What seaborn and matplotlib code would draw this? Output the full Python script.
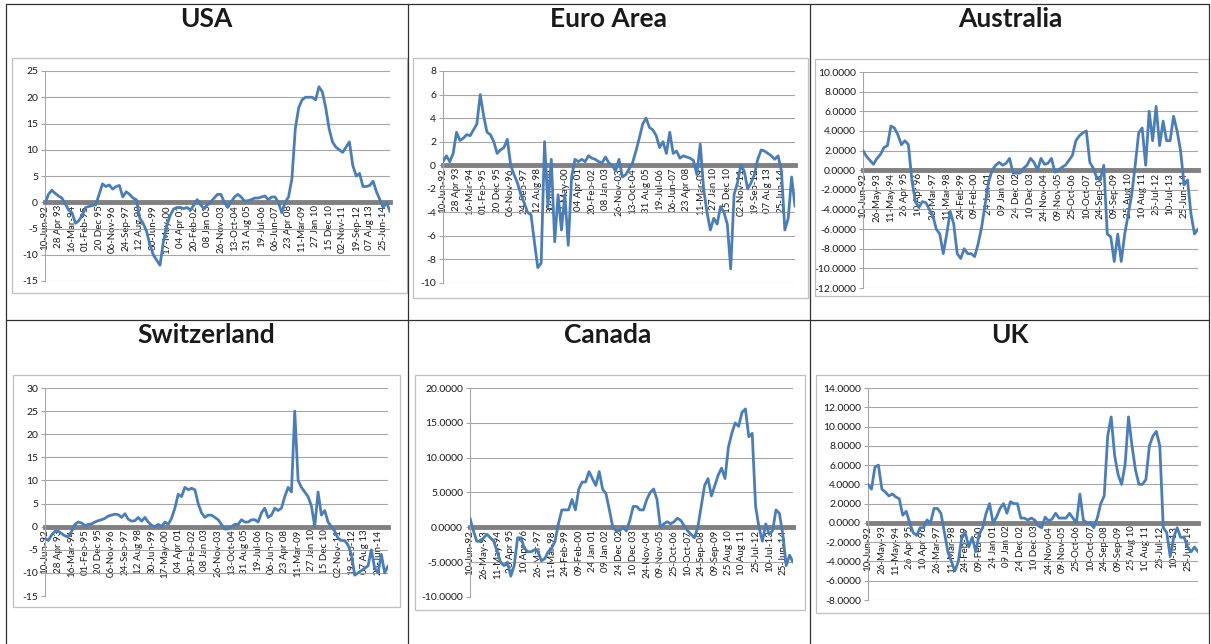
import numpy as np
import matplotlib
matplotlib.use("Agg")
import matplotlib.pyplot as plt
import seaborn as sns
from matplotlib.lines import Line2D
from matplotlib.patches import Rectangle
from matplotlib.ticker import FormatStrFormatter

sns.set_style("white")
plt.rcParams['font.family'] = ['Lato', 'DejaVu Sans']

# --- data: values, 4 readings per label interval ---
labels_a = ["10-Jun-92", "28 Apr 93", "16-Mar-94", "01-Feb-95", "20 Dec 95", "06-Nov-96",
            "24-Sep-97", "12 Aug 98", "30-Jun-99", "17-May-00", "04 Apr 01", "20-Feb-02",
            "08 Jan 03", "26-Nov-03", "13-Oct-04", "31 Aug 05", "19-Jul-06", "06-Jun-07",
            "23 Apr 08", "11-Mar-09", "27 Jan 10", "15 Dec 10", "02-Nov-11", "19-Sep-12",
            "07 Aug 13", "25-Jun-14"]
labels_b = ["10-Jun-92", "26-May-93", "11-May-94", "26 Apr 95", "10 Apr 96", "26-Mar-97",
            "11-Mar-98", "24-Feb-99", "09-Feb-00", "24 Jan 01", "09 Jan 02", "24 Dec 02",
            "10 Dec 03", "24-Nov-04", "09-Nov-05", "25-Oct-06", "10-Oct-07", "24-Sep-08",
            "09-Sep-09", "25 Aug 10", "10 Aug 11", "25-Jul-12", "10-Jul-13", "25-Jun-14"]

usa = [-0.3, 1.5, 2.3, 1.7, 1.2, 0.8, -0.3, -1.5, -2.0, -4.0, -3.5, -2.5, -1.0, -0.8, -0.6,
       -0.5, 1.5, 3.5, 3.0, 3.3, 2.5, 3.0, 3.2, 1.0, 2.0, 1.5, 0.8, 0.5, -3.0, -4.0, -5.5,
       -8.0, -10.0, -11.0, -12.0, -7.5, -4.5, -2.5, -1.3, -1.0, -1.0, -1.2, -1.0, -1.5, -0.5,
       0.5, -0.5, -1.2, -0.5, 0.0, 0.8, 1.5, 1.5, 0.0, -1.0, 0.0, 1.0, 1.5, 1.0, 0.2, 0.3,
       0.5, 0.8, 0.8, 1.0, 1.2, 0.5, 1.0, 1.0, 0.0, -2.0, 0.0, 1.0, 4.5, 14.0, 18.0, 19.5,
       20.0, 20.0, 20.0, 19.5, 22.0, 21.0, 18.0, 14.0, 11.5, 10.5, 10.0, 9.5, 10.5, 11.5, 7.0,
       5.0, 5.5, 3.0, 3.0, 3.2, 4.0, 2.0, 0.5, -1.0, 0.0, -1.8]

euro = [0.3, 0.8, 0.3, 1.0, 2.8, 2.1, 2.3, 2.6, 2.5, 3.0, 3.5, 6.0, 4.2, 2.8, 2.6, 2.0, 1.0,
        1.3, 1.5, 2.2, 0.0, -0.8, -1.5, -2.5, -3.2, -4.0, -4.2, -6.5, -8.7, -8.3, 2.0, -3.5,
        0.5, -6.5, -2.5, -5.5, -2.5, -6.8, -1.0, 0.5, 0.3, 0.5, 0.3, 0.8, 0.6, 0.5, 0.3, 0.2,
        0.7, 0.2, 0.0, -0.5, 0.5, -1.0, -0.8, -0.3, 0.2, 1.2, 2.3, 3.5, 4.0, 3.2, 3.0, 2.5,
        1.5, 2.0, 1.0, 2.8, 1.0, 1.2, 0.6, 0.8, 0.7, 0.6, 0.4, -0.8, 1.8, -2.0, -4.0, -5.5,
        -4.5, -5.0, -3.5, -4.0, -5.0, -8.8, -2.5, -1.5, 0.0, -0.5, -2.0, -1.5, -0.8, 0.5, 1.3,
        1.2, 1.0, 0.8, 0.5, 0.8, -0.5, -5.5, -4.5, -1.0, -3.5]

australia = [2.0, 1.4, 1.0, 0.6, 1.2, 1.6, 2.3, 2.5, 4.5, 4.3, 3.6, 2.6, 3.0, 2.6, -1.0, -3.2,
             -3.8, -3.2, -3.3, -4.0, -4.6, -6.0, -6.5, -8.5, -6.5, -4.2, -5.5, -8.5, -9.0, -8.0,
             -8.5, -8.5, -8.8, -7.5, -5.8, -3.5, -1.2, 0.0, 0.5, 0.8, 0.5, 0.7, 1.2, -0.3, -0.3,
             -0.3, 0.2, 0.5, 1.2, 0.8, 0.0, 1.2, 0.6, 0.7, 1.2, -0.2, 0.0, 0.3, 0.5, 1.0, 1.5,
             3.0, 3.5, 3.8, 4.0, 0.8, 0.2, -0.8, -1.0, 0.5, -6.5, -6.8, -9.3, -6.5, -9.3, -6.5,
             -4.5, -2.5, 0.5, 3.8, 4.3, 0.5, 6.0, 3.0, 6.5, 2.5, 5.0, 3.0, 3.0, 5.5, 4.0, 2.0,
             -1.5, -1.0, -4.5, -6.5, -6.0]

switzerland = [-2.5, -3.0, -1.8, -1.0, -1.0, -1.5, -2.0, -2.2, -1.0, 0.5, 1.0, 0.8, 0.2, 0.5,
               0.6, 1.0, 1.3, 1.5, 1.8, 2.3, 2.5, 2.7, 2.6, 2.0, 2.8, 1.6, 1.2, 1.3, 2.0, 1.2,
               2.0, 1.0, 0.3, 0.0, 0.5, 0.0, 1.0, 0.5, 1.8, 4.0, 7.0, 6.5, 8.5, 8.0, 8.3, 8.0,
               5.0, 3.0, 2.0, 2.5, 2.5, 2.0, 1.5, 0.5, -0.5, -0.5, 0.0, 0.5, 0.5, 1.5, 1.0, 1.0,
               1.5, 1.5, 1.0, 3.0, 4.0, 2.0, 2.5, 4.0, 3.5, 4.0, 6.5, 8.5, 7.5, 25.0, 10.0, 8.5,
               7.5, 6.5, 4.5, 0.0, 7.5, 2.5, 3.5, 1.0, 0.0, -1.0, -2.5, -3.0, -3.0, -4.0, -6.0,
               -10.5, -10.0, -9.5, -9.0, -8.5, -5.0, -9.0, -10.0, -6.0, -10.0, -8.5]

canada = [1.3, -0.5, -2.0, -2.0, -1.5, -1.0, -1.5, -2.0, -3.5, -5.0, -5.5, -5.0, -7.0, -5.5,
          -1.5, -1.5, -3.0, -3.5, -3.5, -3.2, -3.5, -4.8, -4.5, -3.5, -3.0, -2.0, 0.5, 2.5, 2.5,
          2.5, 4.0, 2.5, 5.5, 6.5, 6.5, 8.0, 7.0, 6.0, 8.0, 5.5, 4.8, 2.5, 0.0, -0.5, -0.5, 0.0,
          -0.5, 1.0, 3.0, 3.0, 2.5, 2.5, 4.0, 5.0, 5.5, 4.0, 0.0, 0.5, 0.8, 0.5, 0.8, 1.3, 1.0,
          0.2, -0.5, -1.0, -1.5, 0.0, 3.0, 6.0, 7.0, 4.5, 6.0, 7.5, 8.5, 7.0, 11.5, 13.5, 15.0,
          14.5, 16.5, 17.0, 13.0, 13.5, 3.0, 0.0, -2.0, 0.5, -1.0, -0.5, 2.5, 2.0, -1.0, -5.5,
          -4.0, -5.0]

uk = [4.0, 3.5, 5.8, 6.0, 3.5, 3.2, 2.8, 3.0, 2.7, 2.5, 0.8, 1.2, 0.0, -1.0, -1.3, -0.5, -0.5,
      0.3, 0.0, 1.5, 1.5, 1.0, -1.0, -3.0, -4.0, -5.0, -4.0, -1.5, -1.0, -2.5, -1.5, -3.0, -1.2,
      -0.5, 1.0, 2.0, 0.0, 0.6, 1.5, 2.0, 1.0, 2.2, 2.0, 2.0, 0.5, 0.5, 0.3, 0.5, 0.3, -0.3,
      -0.5, 0.6, 0.2, 0.4, 1.0, 0.5, 0.5, 0.5, 1.0, 0.5, 0.0, 3.0, 0.3, 0.0, 0.0, -0.5, 0.5,
      2.0, 2.8, 9.0, 11.0, 7.0, 5.0, 4.0, 6.0, 11.0, 8.0, 5.5, 4.0, 4.0, 4.5, 8.0, 9.0, 9.5,
      8.0, -0.5, -1.0, -3.5, -1.5, -0.5, -1.5, -1.5, -2.5, -3.0, -2.5, -3.0]

titles = ["USA", "Euro Area", "Australia", "Switzerland", "Canada", "UK"]
series = [usa, euro, australia, switzerland, canada, uk]
tick_labels = [labels_a, labels_a, labels_b, labels_a, labels_b, labels_b]
y_ranges = [(-15, 25, 5), (-10, 8, 2), (-12, 10, 2), (-15, 30, 5), (-10, 20, 5), (-8, 14, 2)]
y_formats = ["%d", "%d", "%.4f", "%d", "%.4f", "%.4f"]

# --- layout in pixels (left, right, top, bottom) ---
W, H = 1211, 644
axes_px = [(45, 390, 71, 281), (443, 795, 71, 283), (863, 1198, 72, 288),
           (45, 388, 388, 596), (470, 793, 388, 597), (868, 1198, 388, 600)]
box_px = [(12, 407, 58, 293), (413, 808, 58, 298), (815, 1209, 59, 296),
          (13, 400, 375, 607), (415, 805, 375, 610), (816, 1209, 375, 613)]
title_px = [(206, 19), (608, 19), (1010, 19), (206, 335), (608, 335), (1010, 335)]

blue = "#4A7EBB"
fig = plt.figure(figsize=(W / 100, H / 100), dpi=100)

# outer cell borders
for x in [6, 408, 810, 1209]:
    fig.add_artist(Line2D([x / W, x / W], [1 - 4 / H, 0], color="#303030", lw=0.9))
for y in [4, 320]:
    fig.add_artist(Line2D([6 / W, 1209 / W], [1 - y / H, 1 - y / H], color="#303030", lw=0.9))

for i in range(6):
    l, r, t, b = box_px[i]
    fig.add_artist(Rectangle((l / W, 1 - b / H), (r - l) / W, (b - t) / H,
                             transform=fig.transFigure, fill=False, ec="#BFBFBF", lw=0.9))
    tx, ty = title_px[i]
    fig.text(tx / W, 1 - ty / H, titles[i], ha="center", va="center",
             fontsize=19, fontweight="bold", color="#1a1a1a")

    l, r, t, b = axes_px[i]
    ax = fig.add_axes([l / W, 1 - b / H, (r - l) / W, (b - t) / H])
    vals = series[i]
    x = np.arange(len(vals)) / 4
    sns.lineplot(x=x, y=vals, ax=ax, color=blue, linewidth=2.0, zorder=3)

    ymin, ymax, step = y_ranges[i]
    ax.set_xlim(0, x[-1])
    ax.set_ylim(ymin, ymax)
    ax.set_yticks(np.arange(ymin, ymax + step / 2, step))
    ax.yaxis.set_major_formatter(FormatStrFormatter(y_formats[i]))
    ax.yaxis.grid(True, color="#A6A6A6", lw=0.8)
    ax.xaxis.grid(False)
    ax.set_axisbelow(True)

    for s in ["top", "right"]:
        ax.spines[s].set_visible(False)
    ax.spines["left"].set_color("#A6A6A6")
    ax.spines["left"].set_linewidth(0.8)
    ax.spines["bottom"].set_position(("data", 0))
    ax.spines["bottom"].set_color("#808080")
    ax.spines["bottom"].set_linewidth(3.5)
    ax.spines["bottom"].set_zorder(2)

    ax.set_xticks(range(len(tick_labels[i])))
    ax.set_xticklabels(tick_labels[i], rotation=90, fontsize=7, color="#1a1a1a")
    ax.tick_params(axis="x", length=0, pad=2)
    ax.tick_params(axis="y", length=3, width=0.8, color="#A6A6A6", labelsize=7.5,
                   labelcolor="#1a1a1a", pad=2, left=True)
    ax.set_facecolor("none")

fig.savefig("out.png", dpi=100)
